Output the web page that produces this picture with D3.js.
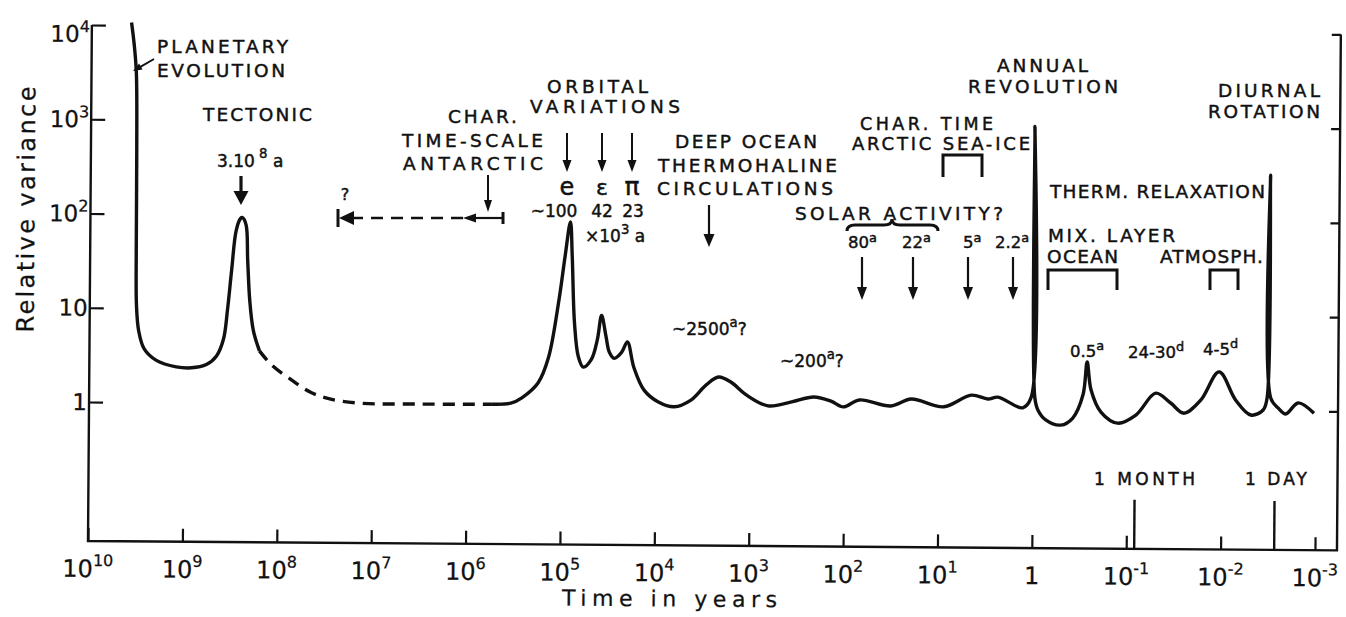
<!DOCTYPE html>
<html>
<head>
<meta charset="utf-8">
<script src="https://cdn.jsdelivr.net/npm/d3@7"></script>
<style>
  body { margin: 0; background: #fff; }
  text { font-family: "DejaVu Sans", sans-serif; fill: #111; }
</style>
</head>
<body>
<div id="chart"></div>
<script>
// tick exponents (time in years, relative variance)
const xTickExponents = [10, 9, 8, 7, 6, 5, 4, 3, 2, 1, 0, -1, -2, -3]
const yTickExponents = [0, 1, 2, 3, 4]
const markerTicks = [
  { label: '1 MONTH', period: 1 / 12 },
  { label: '1 DAY', period: 1 / 365 }
]

// [period (years), relative variance]
// planetary evolution + tectonic peak (solid)
const geologicCurve = [
  [3.8e9, 1.07e4], [3.55e9, 6300], [3.35e9, 3160], [3.27e9, 500], [3.25e9, 40],
  [3.2e9, 10.7], [3.02e9, 5.75], [2.63e9, 3.7], [1.95e9, 2.8], [1.2e9, 2.4],
  [8.3e8, 2.35], [5.75e8, 2.55], [4.5e8, 3.15], [3.8e8, 4.8], [3.47e8, 9.8],
  [3.16e8, 25.7], [2.85e8, 67.6], [2.57e8, 91], [2.45e8, 93], [2.24e8, 78],
  [2.14e8, 33], [2.02e8, 12.3], [1.84e8, 5.9], [1.58e8, 3.6]
]
// poorly known range (dashed)
const gapCurve = [
  [1.58e8, 3.6], [1.17e8, 2.55], [7.2e7, 1.78], [4.5e7, 1.32], [2.75e7, 1.12],
  [1.3e7, 1.02], [3.0e6, 1.01], [5.5e5, 1.02]
]
// orbital .. diurnal (solid)
const climateCurve = [
  [5.5e5, 1.02], [3.4e5, 1.05], [2.6e5, 1.2], [1.75e5, 1.74], [1.37e5, 3.2],
  [1.07e5, 13.2], [9.3e4, 38], [8.2e4, 89], [7.8e4, 38], [7.3e4, 7.6],
  [6.6e4, 3.3], [5.85e4, 2.57], [4.8e4, 3.1], [4.17e4, 5.0], [3.77e4, 9.1],
  [3.39e4, 5.6], [3.1e4, 3.7], [2.75e4, 3.2], [2.3e4, 3.7], [2.0e4, 4.8],
  [1.7e4, 2.57], [1.32e4, 1.48], [9300, 1.11], [6300, 0.99], [4200, 1.17],
  [2900, 1.7], [2150, 2.07], [1580, 1.82], [1100, 1.35], [640, 1.03],
  [360, 1.14], [210, 1.29], [138, 1.17], [102, 1.02], [69, 1.21],
  [32, 1.05], [19.5, 1.25], [8.8, 1.04], [4.5, 1.39], [3.0, 1.27],
  [2.35, 1.33], [1.28, 1.03], [1.047, 1.32], [1.0, 1000], [0.955, 1.32],
  [0.885, 0.98], [0.73, 0.77], [0.505, 0.68], [0.377, 0.81], [0.295, 1.43],
  [0.268, 3.2], [0.243, 1.62], [0.19, 0.94], [0.126, 0.72], [0.081, 0.88],
  [0.05, 1.51], [0.0347, 1.19], [0.0251, 0.93], [0.0166, 1.29], [0.0107, 2.57],
  [0.0071, 1.29], [0.0049, 0.9], [0.00363, 1.02], [0.00331, 1.36], [0.00316, 316],
  [0.00302, 1.36], [0.00251, 1.07], [0.00209, 0.93], [0.00155, 1.22], [0.00105, 0.95]
]

const W = 1346, H = 617
const left = 88, right = 1337, bottom = 541

const svg = d3.select('#chart').append('svg')
  .attr('width', W).attr('height', H)

// the scanned figure is tilted a little
const frame = svg.append('g').attr('transform', `rotate(0.43,${left},${bottom})`)

const x = d3.scaleLog().domain([1e10, 1e-3]).range([left, 1315])
const y = d3.scaleLog().domain([1, 1e4]).range([402, 25])

const xTicks = xTickExponents.map(e => Math.pow(10, e))
const yTicks = yTickExponents.map(e => Math.pow(10, e))

// axis frame
frame.append('path')
  .attr('d', `M${left},${y(1e4)}V${bottom}H${right}V${y(1e4)}`)
  .attr('fill', 'none').attr('stroke', '#111').attr('stroke-width', 2.4)

function styleTicks(g, w) {
  g.select('.domain').remove()
  g.selectAll('.tick line').attr('stroke', '#111').attr('stroke-width', w)
}

frame.append('g').attr('transform', `translate(${left},0)`)
  .call(d3.axisRight(y).tickValues(yTicks).tickSize(14).tickFormat(''))
  .call(g => styleTicks(g, 2.2))

frame.append('g').attr('transform', `translate(${right},0)`)
  .call(d3.axisLeft(y).tickValues(yTicks).tickSize(9).tickFormat(''))
  .call(g => styleTicks(g, 2.2))

frame.append('g').attr('transform', `translate(0,${bottom})`)
  .call(d3.axisBottom(x).tickValues(xTicks).tickSize(-13).tickFormat(''))
  .call(g => styleTicks(g, 2.2))

frame.append('g').attr('transform', `translate(0,${bottom})`)
  .call(d3.axisBottom(x).tickValues(markerTicks.map(d => d.period)).tickSize(-49).tickFormat(''))
  .call(g => styleTicks(g, 2.4))

// text with optional superscripts
function addText(g, a) {
  const size = a.size || 18.5
  const t = g.append('text')
    .attr('x', a.x).attr('y', a.y)
    .attr('text-anchor', a.anchor || 'start')
    .attr('font-size', size)
    .attr('stroke', '#111').attr('stroke-width', a.stroke == null ? 0.45 : a.stroke)
  if (a.len) t.attr('textLength', a.len).attr('lengthAdjust', 'spacing')
  let shift = 0
  a.parts.forEach(p => {
    const isSup = typeof p !== 'string'
    const target = isSup ? -(a.raise || size * 0.42) : 0
    t.append('tspan')
      .attr('dy', target - shift)
      .attr('font-size', isSup ? (a.supSize || size * 0.78) : null)
      .text(isSup ? p.sup : p)
    shift = target
  })
  return t
}

function powerParts(e, plainTen) {
  if (e === 0) return ['1']
  if (e === 1 && plainTen) return ['10']
  return ['10', { sup: String(e) }]
}

// y tick labels
yTicks.forEach((v, i) => {
  const e = yTickExponents[i]
  addText(frame, {
    x: left - 2, y: y(v) + (e === 4 ? 17 : 8), anchor: 'end', size: 23, stroke: 0.25,
    supSize: 16, raise: 10, parts: powerParts(e, true)
  })
})

// x tick labels
xTicks.forEach((v, i) => {
  const e = xTickExponents[i]
  addText(frame, {
    x: x(v), y: 577, anchor: 'middle', size: 24, stroke: 0.25,
    supSize: 16, raise: 11, parts: powerParts(e, false)
  })
})

// spectrum curve
const line = d3.line()
  .x(d => x(d[0]))
  .y(d => y(d[1]))
  .curve(d3.curveCatmullRom.alpha(0.5))

frame.append('path').datum(geologicCurve)
  .attr('d', line).attr('fill', 'none').attr('stroke', '#111')
  .attr('stroke-width', 3.4).attr('stroke-linejoin', 'round')

frame.append('path').datum(gapCurve)
  .attr('d', line).attr('fill', 'none').attr('stroke', '#111')
  .attr('stroke-width', 3.4).attr('stroke-dasharray', '12,8')

frame.append('path').datum(climateCurve)
  .attr('d', line).attr('fill', 'none').attr('stroke', '#111')
  .attr('stroke-width', 3.4).attr('stroke-linejoin', 'round')

// axis titles
addText(frame, {
  x: 0, y: 0, anchor: 'middle', size: 24, len: 246, stroke: 0.25,
  parts: ['Relative variance']
}).attr('transform', 'translate(32,210) rotate(-90)')

addText(frame, { x: 670, y: 602, anchor: 'middle', size: 22, len: 215, stroke: 0.25, parts: ['Time in years'] })

// annotations (page coordinates)
const notes = svg.append('g')

const labels = [
  { x: 157, y: 53, len: 131, parts: ['PLANETARY'] },
  { x: 157, y: 77, len: 128, parts: ['EVOLUTION'] },
  { x: 203, y: 121, len: 109, parts: ['TECTONIC'] },
  { x: 217, y: 167, size: 17, raise: 9, parts: ['3.10', { sup: ' 8' }, ' a'] },
  { x: 345, y: 200, size: 16, anchor: 'middle', parts: ['?'] },
  { x: 448, y: 123, len: 69, parts: ['CHAR.'] },
  { x: 402, y: 147, len: 141, parts: ['TIME-SCALE'] },
  { x: 403, y: 170, len: 140, parts: ['ANTARCTIC'] },
  { x: 547, y: 93, len: 101, parts: ['ORBITAL'] },
  { x: 530, y: 113, len: 150, parts: ['VARIATIONS'] },
  { x: 567, y: 195, size: 24, anchor: 'middle', parts: ['e'] },
  { x: 602, y: 195, size: 22, anchor: 'middle', parts: ['ε'] },
  { x: 632, y: 195, size: 25, anchor: 'middle', parts: ['π'] },
  { x: 554, y: 217, size: 17, anchor: 'middle', parts: ['~100'] },
  { x: 602, y: 217, size: 17, anchor: 'middle', parts: ['42'] },
  { x: 633, y: 217, size: 17, anchor: 'middle', parts: ['23'] },
  { x: 585, y: 242, size: 17, raise: 8, parts: ['×10', { sup: '3' }, ' a'] },
  { x: 675, y: 148, len: 142, parts: ['DEEP OCEAN'] },
  { x: 658, y: 172, len: 179, parts: ['THERMOHALINE'] },
  { x: 657, y: 195, len: 176, parts: ['CIRCULATIONS'] },
  { x: 860, y: 130, len: 133, size: 17.5, parts: ['CHAR. TIME'] },
  { x: 852, y: 150, len: 178, size: 18, parts: ['ARCTIC SEA-ICE'] },
  { x: 795, y: 220, len: 208, parts: ['SOLAR ACTIVITY?'] },
  { x: 848, y: 248, size: 16.5, raise: 6, parts: ['80', { sup: 'a' }] },
  { x: 902, y: 248, size: 16.5, raise: 6, parts: ['22', { sup: 'a' }] },
  { x: 963, y: 248, size: 16.5, raise: 6, parts: ['5', { sup: 'a' }] },
  { x: 995, y: 248, size: 16.5, raise: 6, parts: ['2.2', { sup: 'a' }] },
  { x: 997, y: 72, len: 91, parts: ['ANNUAL'] },
  { x: 968, y: 93, len: 150, parts: ['REVOLUTION'] },
  { x: 1320, y: 97, len: 102, anchor: 'end', parts: ['DIURNAL'] },
  { x: 1320, y: 118, len: 112, anchor: 'end', parts: ['ROTATION'] },
  { x: 1050, y: 198, len: 215, parts: ['THERM. RELAXATION'] },
  { x: 1048, y: 242, len: 127, parts: ['MIX. LAYER'] },
  { x: 1047, y: 263, len: 71, parts: ['OCEAN'] },
  { x: 1160, y: 263, len: 103, parts: ['ATMOSPH.'] },
  { x: 1070, y: 357, size: 16.5, raise: 7, parts: ['0.5', { sup: 'a' }] },
  { x: 1128, y: 358, size: 16.5, raise: 7, parts: ['24-30', { sup: 'd' }] },
  { x: 1203, y: 355, size: 16.5, raise: 7, parts: ['4-5', { sup: 'd' }] },
  { x: 672, y: 335, size: 17, raise: 8, parts: ['~2500', { sup: 'a' }, '?'] },
  { x: 780, y: 367, size: 17, raise: 8, parts: ['~200', { sup: 'a' }, '?'] },
  { x: 1094, y: 485, len: 101, size: 17, parts: [markerTicks[0].label] },
  { x: 1245, y: 485, len: 62, size: 17, parts: [markerTicks[1].label] }
]
labels.forEach(a => addText(notes, a))

function arrow(g, x1, y1, x2, y2, hw = 4.5, hh = 12, sw = 2) {
  const dx = x2 - x1, dy = y2 - y1, L = Math.hypot(dx, dy)
  const ux = dx / L, uy = dy / L
  const bx = x2 - ux * hh, by = y2 - uy * hh
  g.append('line')
    .attr('x1', x1).attr('y1', y1).attr('x2', bx + ux * 2).attr('y2', by + uy * 2)
    .attr('stroke', '#111').attr('stroke-width', sw)
  g.append('path')
    .attr('d', `M${x2},${y2}L${bx - uy * hw},${by + ux * hw}L${bx + uy * hw},${by - ux * hw}Z`)
    .attr('fill', '#111')
}

const arrows = [
  [154, 59, 133, 71, 3.5, 9, 2],
  [241, 176, 241, 205, 7.5, 14, 3.2],
  [488, 175, 488, 212, 4, 12, 2],
  [567, 133, 567, 172, 4.5, 12, 2],
  [602, 133, 602, 172, 4.5, 12, 2],
  [632, 133, 632, 172, 4.5, 12, 2],
  [709, 205, 709, 247, 5.5, 13, 2.2],
  [862, 257, 862, 300, 5, 13, 2.2],
  [913, 257, 913, 300, 5, 13, 2.2],
  [968, 257, 968, 300, 5, 13, 2.2],
  [1013, 257, 1013, 300, 5, 13, 2.2],
  [503, 218, 463, 218, 4.5, 13, 2.2]
]
arrows.forEach(a => arrow(notes, ...a))

// dashed part of the Antarctic arrow
notes.append('line')
  .attr('x1', 463).attr('y1', 218).attr('x2', 352).attr('y2', 218)
  .attr('stroke', '#111').attr('stroke-width', 2.6).attr('stroke-dasharray', '12,8')
notes.append('path').attr('d', 'M339,218L354,211L354,225Z').attr('fill', '#111')

const strokes = [
  'M338,209V227',
  'M503,212V224',
  'M943,177V155H982V177',
  'M1048,290V270H1117V290',
  'M1210,290V270H1238V290',
  'M847,231Q847,225 855,225L884,225Q892,225 892,219Q892,225 900,225L930,225Q938,225 938,231'
]
strokes.forEach(d => notes.append('path').attr('d', d)
  .attr('fill', 'none').attr('stroke', '#111').attr('stroke-width', 3))
</script>
</body>
</html>
